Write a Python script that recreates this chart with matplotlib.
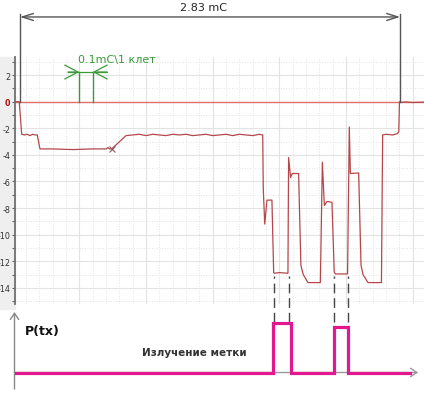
import numpy as np
import matplotlib
matplotlib.use('Agg')
import matplotlib.pyplot as plt
from matplotlib.ticker import MultipleLocator
from matplotlib.patches import Rectangle

plt.rcParams['axes.unicode_minus'] = False
plt.rcParams['font.family'] = ['DejaVu Sans']

# Voltage trace, time in ms (grid cell = 0.1 ms), level in divisions
trace_t = [0.014, 0.050, 0.068, 0.09, 0.11, 0.13, 0.15, 0.17, 0.185, 0.205,
           0.30, 0.45, 0.60, 0.70, 0.716, 0.725, 0.743, 0.85,
           0.90, 0.95, 1.00, 1.05, 1.10, 1.15, 1.20, 1.25, 1.30, 1.35, 1.40,
           1.45, 1.50, 1.55, 1.60, 1.65, 1.70, 1.75, 1.80, 1.85, 1.875,
           1.879, 1.890, 1.907, 1.944, 1.957, 1.962, 2.00, 2.064,
           2.069, 2.084, 2.096, 2.144, 2.161, 2.179, 2.214, 2.307,
           2.322, 2.337, 2.357, 2.394, 2.411, 2.42, 2.511,
           2.524, 2.532, 2.594, 2.612, 2.627, 2.664, 2.765,
           2.774, 2.80, 2.85, 2.885, 2.895, 2.90, 2.912, 2.95, 3.00, 3.084]
trace_v = [0.0, 0.0, -2.45, -2.5, -2.45, -2.55, -2.45, -2.5, -2.5, -3.55,
           -3.55, -3.6, -3.55, -3.55, -3.45, -3.55, -3.55, -2.55,
           -2.5, -2.45, -2.55, -2.45, -2.5, -2.55, -2.45, -2.5, -2.45, -2.55, -2.5,
           -2.45, -2.55, -2.5, -2.45, -2.55, -2.45, -2.5, -2.55, -2.45, -2.5,
           -6.5, -9.2, -7.4, -7.4, -12.85, -12.9, -12.85, -12.9,
           -4.2, -5.7, -5.4, -5.4, -12.3, -13.0, -13.6, -13.6,
           -4.55, -7.8, -7.5, -7.56, -12.8, -12.95, -12.95,
           -1.9, -5.4, -5.36, -12.3, -13.0, -13.6, -13.6,
           -2.5, -2.45, -2.5, -2.4, -2.25, 0.0, -0.05, -0.02, -0.06, -0.03]
cross_t, cross_v = 0.743, -3.55

# dimension of the whole event
dim_t0, dim_t1 = 0.055, 2.905
dim_label = '2.83 mC'
cell_t0, cell_t1 = 0.5, 0.6
cell_label = r'0.1mC\1 клет'

# tag emission pulses
pulse_t = [0.026, 1.955, 1.955, 2.084, 2.084, 2.411, 2.411, 2.516, 2.516, 2.98]
pulse_v = [0, 0, 1, 1, 0, 0, 0.92, 0.92, 0, 0]
dash_t = [1.957, 2.072, 2.411, 2.511]

W, H = 424, 406


def px_rect(x0, y0, x1, y1):
    return [x0 / W, 1 - y1 / H, (x1 - x0) / W, (y1 - y0) / H]


fig = plt.figure(figsize=(W / 100, H / 100), dpi=100)
fig.patches.append(Rectangle((0, 1 - 310 / H), 14.5 / W, (310 - 58) / H,
                             transform=fig.transFigure, color='#efefef', zorder=-5))

ax = fig.add_axes(px_rect(14.5, 58, 424, 305))
ax.set_xlim(0.0142, 3.084)
ax.set_ylim(-15.21, 3.36)
ax.patch.set_alpha(0)
ax.xaxis.set_major_locator(MultipleLocator(0.5))
ax.xaxis.set_minor_locator(MultipleLocator(0.1))
ax.set_yticks(np.arange(-14, 3, 2))
ax.yaxis.set_minor_locator(MultipleLocator(1))
ax.set_yticklabels([str(v) for v in range(-14, 3, 2)])
ax.tick_params(axis='x', which='both', length=0, labelbottom=False)
ax.tick_params(axis='y', which='both', length=2.5, width=0.8, color='#666',
               labelsize=5.8, labelcolor='#333', pad=0.5)
for lab in ax.get_yticklabels():
    if lab.get_text() == '0':
        lab.set_color('#aa1111')
        lab.set_fontweight('bold')
ax.grid(which='major', color='#e3e3e3', lw=0.8, ls='-')
ax.grid(which='minor', color='#e3e3e3', lw=0.7, ls=':')
ax.set_axisbelow(True)
for s in ['top', 'right', 'bottom']:
    ax.spines[s].set_visible(False)
ax.spines['left'].set_color('#707070')
ax.spines['left'].set_linewidth(1.3)

ax.axhline(0, color='#e07070', lw=1.0, zorder=2)
ax.plot(trace_t, trace_v, color='#b5474b', lw=0.9, zorder=3)
ax.plot(cross_t, cross_v, marker='x', ms=5, color='#8a5a5a', mew=0.8, zorder=4)

# overall dimension
dark = '#555555'
ax.annotate('', xy=(dim_t0, 6.37), xytext=(dim_t1, 6.37),
            arrowprops=dict(arrowstyle='<->,head_length=0.8,head_width=0.25',
                            color=dark, lw=1, shrinkA=0, shrinkB=0),
            annotation_clip=False)
for t in (dim_t0, dim_t1):
    ax.plot([t, t], [0, 6.6], color=dark, lw=1, clip_on=False, zorder=4)
ax.text(1.43, 7.1, dim_label, ha='center', va='center', fontsize=8,
        color='#222', clip_on=False)

# one grid cell marker
green = '#3a9a3a'
for t in (cell_t0, cell_t1):
    ax.plot([t, t], [0, 2.23], color=green, lw=1, zorder=4)
ax.plot([0.415, 0.708], [2.23, 2.23], color=green, lw=0.9, zorder=4)
ax.annotate('', xy=(cell_t0, 2.23), xytext=(0.415, 2.23),
            arrowprops=dict(arrowstyle='->,head_length=0.95,head_width=0.5',
                            color=green, lw=0.9, shrinkA=0, shrinkB=0))
ax.annotate('', xy=(cell_t1, 2.23), xytext=(0.708, 2.23),
            arrowprops=dict(arrowstyle='->,head_length=0.95,head_width=0.5',
                            color=green, lw=0.9, shrinkA=0, shrinkB=0))
ax.text(0.49, 3.2, cell_label, ha='left', va='center', fontsize=8, color=green)

ax.vlines(dash_t, -16.6, -13.1, colors='#444', linestyles=(0, (7, 3.5)),
          lw=1, clip_on=False, zorder=5)

# lower panel: emission
ax2 = fig.add_axes(px_rect(14.5, 310, 424, 392))
ax2.set_xlim(0.0142, 3.084)
ax2.set_ylim(-0.37, 1.27)
ax2.axis('off')
ax2.annotate('', xy=(3.04, 0), xytext=(0.0142, 0),
             arrowprops=dict(arrowstyle='->,head_length=0.45,head_width=0.3',
                             color='#999', lw=1, shrinkA=0, shrinkB=0),
             annotation_clip=False)
ax2.annotate('', xy=(0.0142, 1.21), xytext=(0.0142, -0.33),
             arrowprops=dict(arrowstyle='->,head_length=0.45,head_width=0.3',
                             color='#888', lw=1, shrinkA=0, shrinkB=0),
             annotation_clip=False)
ax2.plot(pulse_t, pulse_v, color='#e3188f', lw=2.3, solid_joinstyle='miter', zorder=3)
ax2.text(0.093, 0.85, 'P(tx)', ha='left', va='center', fontsize=9,
         fontweight='bold', color='#111')
ax2.text(0.97, 0.42, 'Излучение метки', ha='left', va='center', fontsize=7.5,
         fontweight='bold', color='#333')

fig.savefig('out.png', dpi=100)
